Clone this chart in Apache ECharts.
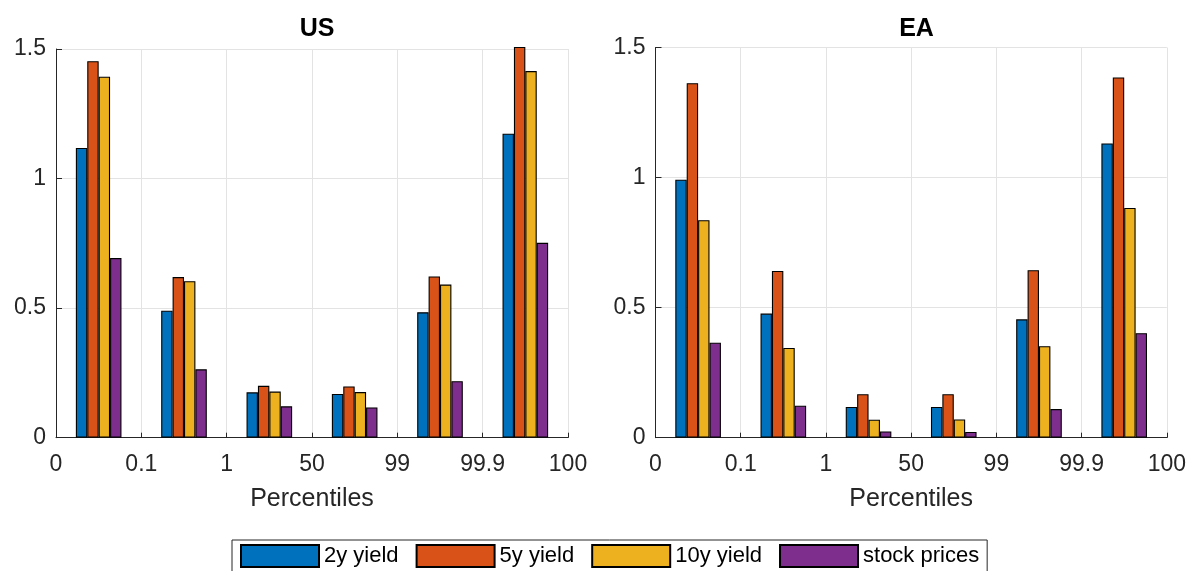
<!DOCTYPE html>
<html>
<head>
<meta charset="utf-8">
<title>US / EA percentiles</title>
<script src="https://cdn.jsdelivr.net/npm/echarts@6/dist/echarts.min.js"></script>
<style>
  html, body { margin: 0; padding: 0; background: #ffffff; }
  #chart { width: 1189px; height: 571px; }
</style>
</head>
<body>
<div id="chart"></div>
<script>
// Percentile boundaries shown under the x axis
const percentileTicks = ['0', '0.1', '1', '50', '99', '99.9', '100'];
// One bar group per interval between neighbouring boundaries
const percentileBins = percentileTicks.slice(0, -1).map((t, i) => t + '–' + percentileTicks[i + 1]);

const seriesNames = ['2y yield', '5y yield', '10y yield', 'stock prices'];
const seriesColors = ['#0072BD', '#D95319', '#EDB120', '#7E2F8E'];

// US
const usYield2y  = [1.118, 0.490, 0.175, 0.169, 0.484, 1.173];
const usYield5y  = [1.453, 0.620, 0.200, 0.198, 0.622, 1.508];
const usYield10y = [1.393, 0.604, 0.178, 0.176, 0.591, 1.415];
const usStocks   = [0.693, 0.264, 0.121, 0.117, 0.218, 0.752];

// EA
const eaYield2y  = [0.992, 0.477, 0.118, 0.118, 0.455, 1.131];
const eaYield5y  = [1.363, 0.641, 0.167, 0.167, 0.644, 1.385];
const eaYield10y = [0.836, 0.345, 0.069, 0.070, 0.352, 0.883];
const eaStocks   = [0.365, 0.123, 0.024, 0.022, 0.110, 0.402];

const yTicks = { min: 0, max: 1.5, interval: 0.5 };

const panels = [
  { title: 'US', data: [usYield2y, usYield5y, usYield10y, usStocks] },
  { title: 'EA', data: [eaYield2y, eaYield5y, eaYield10y, eaStocks] }
];

const FONT = "'Liberation Sans', Arial, Helvetica, sans-serif";
const AXIS_COLOR = '#262626';
const GRID_COLOR = '#e3e3e3';

const grids = [
  { left: 56, top: 49, width: 512, height: 388.7 },
  { left: 655.5, top: 47.5, width: 512, height: 390.2 }
];

const titles = [];
const xAxes = [];
const yAxes = [];
const series = [];

panels.forEach((panel, p) => {
  const g = grids[p];
  titles.push({
    text: panel.title,
    left: g.left + g.width / 2,
    top: 12,
    textAlign: 'center',
    textStyle: { fontFamily: FONT, fontSize: 25, fontWeight: 'bold', color: '#000' }
  });

  // Visible value axis: boundaries 0..6 labelled with the percentiles
  xAxes.push({
    type: 'value',
    gridIndex: p,
    min: 0,
    max: percentileTicks.length - 1,
    interval: 1,
    name: 'Percentiles',
    nameLocation: 'middle',
    nameGap: 49,
    nameTextStyle: { fontFamily: FONT, fontSize: 25, color: AXIS_COLOR },
    axisLine: { show: true, onZero: false, lineStyle: { color: AXIS_COLOR, width: 1 } },
    axisTick: { show: true, inside: true, length: 5, lineStyle: { color: AXIS_COLOR } },
    axisLabel: {
      fontFamily: FONT, fontSize: 23, color: AXIS_COLOR, margin: 15,
      formatter: v => percentileTicks[Math.round(v)]
    },
    splitLine: { show: true, lineStyle: { color: GRID_COLOR, width: 1 } }
  });
  // Hidden category axis carrying the bar groups
  xAxes.push({
    type: 'category',
    gridIndex: p,
    data: percentileBins,
    boundaryGap: true,
    show: false
  });

  yAxes.push({
    type: 'value',
    gridIndex: p,
    min: yTicks.min,
    max: yTicks.max,
    interval: yTicks.interval,
    axisLine: { show: true, lineStyle: { color: AXIS_COLOR, width: 1 } },
    axisTick: { show: true, inside: true, length: 6, lineStyle: { color: AXIS_COLOR } },
    axisLabel: { fontFamily: FONT, fontSize: 23, color: AXIS_COLOR, margin: 10 },
    splitLine: { show: true, lineStyle: { color: GRID_COLOR, width: 1 } }
  });

  panel.data.forEach((values, s) => {
    series.push({
      type: 'bar',
      name: seriesNames[s],
      xAxisIndex: p * 2 + 1,
      yAxisIndex: p,
      data: values,
      barWidth: 11.4,
      barGap: '0%',
      clip: false,
      itemStyle: { color: seriesColors[s], borderColor: '#000', borderWidth: 1.1 },
      emphasis: { disabled: true }
    });
  });
});

const chart = echarts.init(document.getElementById('chart'), null, { renderer: 'canvas' });
chart.setOption({
  animation: false,
  backgroundColor: '#ffffff',
  title: titles,
  grid: grids,
  xAxis: xAxes,
  yAxis: yAxes,
  legend: {
    data: seriesNames,
    left: 232,
    top: 540,
    orient: 'horizontal',
    icon: 'rect',
    itemWidth: 78,
    itemHeight: 22,
    itemGap: 17,
    padding: [4, 8, 4, 8],
    borderColor: AXIS_COLOR,
    borderWidth: 1,
    textStyle: { fontFamily: FONT, fontSize: 22, color: '#000' }
  },
  series: series
});
</script>
</body>
</html>
